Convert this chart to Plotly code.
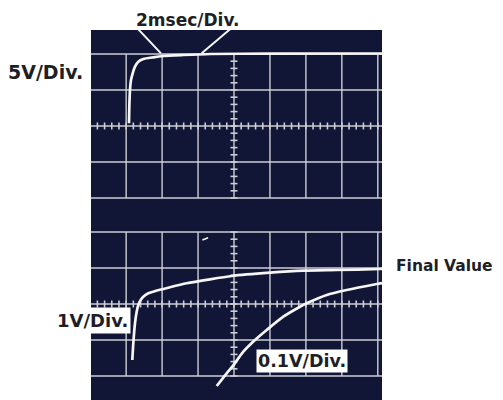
import numpy as np
import plotly.graph_objects as go

# ---------------- data (in screen divisions) ----------------
# top screen: 5V/Div, 2msec/Div
top_x = [1.079, 1.088, 1.107, 1.135, 1.182, 1.246, 1.338, 1.477, 1.755, 2.033, 2.59, 3.332, 5.0, 8.12]
top_y = [0.074, 0.536, 1.0, 1.278, 1.463, 1.647, 1.786, 1.861, 1.908, 1.944, 1.972, 2.0, 2.01, 2.014]

# bottom screen: 1V/Div trace
v1_x = [1.171, 1.199, 1.246, 1.293, 1.338, 1.405, 1.477, 1.616, 1.755, 2.22, 2.684, 3.332, 3.936, 5.001, 5.928, 6.857, 8.061, 8.12]
v1_y = [-1.556, -1.092, -0.537, -0.214, -0.028, 0.111, 0.203, 0.297, 0.342, 0.464, 0.575, 0.686, 0.778, 0.869, 0.925, 0.944, 0.972, 0.975]

# bottom screen: 0.1V/Div trace
v01_x = [3.519, 3.797, 3.953, 4.259, 4.584, 4.91, 5.371, 5.836, 6.022, 6.579, 7.135, 7.969, 8.117]
v01_y = [-2.278, -1.925, -1.742, -1.325, -1.0, -0.722, -0.353, -0.075, 0.019, 0.25, 0.389, 0.556, 0.583]

# pointer lines of the "2msec/Div." label (top screen coords)
ptr_left_x = [1.338, 1.969]
ptr_left_y = [2.686, 2.019]
ptr_right_x = [3.889, 3.101]
ptr_right_y = [2.686, 2.019]

# small stray mark on bottom screen
stray_x = [3.12, 3.28]
stray_y = [1.78, 1.84]

grid_x = list(range(0, 9))
grid_y = list(range(-2, 3))
minor_x = list(np.round(np.arange(0, 8.01, 0.2), 2))
minor_y = list(np.round(np.arange(-2, 2.01, 0.2), 2))

# ---------------- layout geometry (pixels of the target picture) ----------------
W, H = 503, 400
OFF = 8                      # default page margin of the html body
L, R, T, B = 91, 382, 30, 400
X0, DX = 90.2, 35.95
TOP_C, BOT_C, DY = 126, 304, 36
SPLIT = 214

x_range = [(L - X0) / DX, (R - X0) / DX]
top_range = [(TOP_C - SPLIT) / DY, (TOP_C - T) / DY]
bot_range = [(BOT_C - B) / DY, (BOT_C - SPLIT) / DY]
split_frac = (B - SPLIT) / (B - T)

BG = "#111536"
GRID = "#cdced6"
TRACE = "#f6f6f6"

fig = go.Figure()


def add_grid(xa, ya):
    hx, hy = [], []
    for g in grid_y:
        hx += [0, 8.3, None]
        hy += [g, g, None]
    for g in grid_x:
        hx += [g, g, None]
        hy += [-2, 2, None]
    fig.add_trace(go.Scatter(x=hx, y=hy, mode="lines", xaxis=xa, yaxis=ya,
                             line=dict(color=GRID, width=1.4), hoverinfo="skip"))
    fig.add_trace(go.Scatter(x=minor_x, y=[0] * len(minor_x), mode="markers", xaxis=xa, yaxis=ya,
                             marker=dict(symbol="line-ns", size=5, line=dict(color=GRID, width=1.6)),
                             hoverinfo="skip"))
    fig.add_trace(go.Scatter(x=[4] * len(minor_y), y=minor_y, mode="markers", xaxis=xa, yaxis=ya,
                             marker=dict(symbol="line-ew", size=5, line=dict(color=GRID, width=1.6)),
                             hoverinfo="skip"))


add_grid("x", "y")
add_grid("x2", "y2")

tr = dict(color=TRACE, width=2.7, shape="spline", smoothing=0.6)
fig.add_trace(go.Scatter(x=top_x, y=top_y, mode="lines", line=tr, xaxis="x", yaxis="y"))
fig.add_trace(go.Scatter(x=ptr_left_x, y=ptr_left_y, mode="lines", line=dict(color=TRACE, width=2), xaxis="x", yaxis="y"))
fig.add_trace(go.Scatter(x=ptr_right_x, y=ptr_right_y, mode="lines", line=dict(color=TRACE, width=2), xaxis="x", yaxis="y"))
fig.add_trace(go.Scatter(x=v1_x, y=v1_y, mode="lines", line=tr, xaxis="x2", yaxis="y2"))
fig.add_trace(go.Scatter(x=v01_x, y=v01_y, mode="lines", line=tr, xaxis="x2", yaxis="y2"))
fig.add_trace(go.Scatter(x=stray_x, y=stray_y, mode="lines", line=dict(color=TRACE, width=1.6), xaxis="x2", yaxis="y2"))


def px(xp):
    return (xp - L) / (R - L)


def py(yp):
    return (B - yp) / (B - T)


FONT = dict(family="DejaVu Sans, Liberation Sans, sans-serif", size=18, color="#1e1e26", weight="bold")

annotations = [
    dict(text="2msec/Div.", x=px(188), y=py(20), font=dict(FONT, size=17)),
    dict(text="5V/Div.", x=px(45), y=py(72), font=dict(FONT, size=19)),
    dict(text="Final Value", x=px(394), y=py(266), xanchor="left", font=dict(FONT, size=15.5)),
    dict(text="1V/Div.", x=px(92.5), y=py(320.5), font=dict(FONT, size=18), bgcolor="white", borderpad=2),
    dict(text="0.1V/Div.", x=px(302), y=py(361), font=dict(FONT, size=17.5), bgcolor="white", borderpad=1),
]
for a in annotations:
    a.setdefault("xanchor", "center")
    a.update(xref="paper", yref="paper", showarrow=False, yanchor="middle")

ax_common = dict(visible=False, showgrid=False, zeroline=False, fixedrange=True)
fig.update_layout(
    width=W - OFF, height=H - OFF,
    margin=dict(l=L - OFF, r=W - R, t=T - OFF, b=H - B, pad=0),
    paper_bgcolor="white", plot_bgcolor=BG,
    showlegend=False,
    xaxis=dict(ax_common, domain=[0, 1], range=x_range, anchor="y"),
    yaxis=dict(ax_common, domain=[split_frac, 1], range=top_range, anchor="x"),
    xaxis2=dict(ax_common, domain=[0, 1], range=x_range, anchor="y2", matches="x"),
    yaxis2=dict(ax_common, domain=[0, split_frac], range=bot_range, anchor="x2"),
    annotations=annotations,
)

fig.write_html("out.html")
